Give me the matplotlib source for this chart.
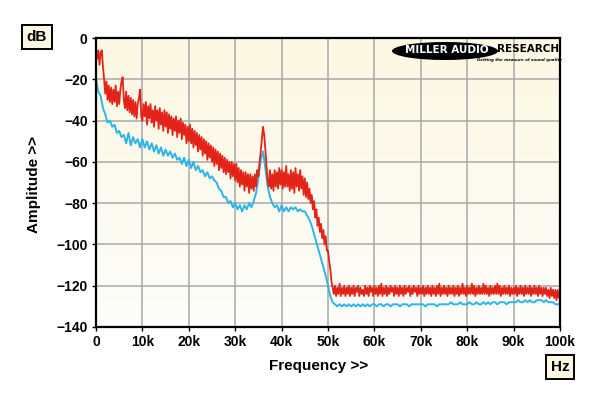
import numpy as np
import matplotlib.pyplot as plt
from matplotlib.patches import Ellipse

# frequency axes (Hz): red trace every 250 Hz, blue every 500 Hz
freq_red = np.arange(0, 100001, 250)
freq_blue = np.arange(0, 100001, 500)

red = [
    -5, -10, -6, -13, -7, -6, -14, -20, -27, -21, -30, -23, -31, -24, -32, -25, -31, -23, -33, -26,
    -32, -25, -21, -19, -30, -34, -26, -35, -28, -36, -29, -37, -30, -38, -31, -39, -32, -29, -25, -38,
    -40, -32, -38, -31, -42, -33, -39, -32, -41, -35, -43, -33, -40, -35, -44, -34, -42, -36, -45, -35,
    -43, -36, -46, -37, -44, -38, -47, -39, -45, -38, -48, -40, -46, -39, -49, -41, -47, -42, -51, -43,
    -50, -42, -51, -44, -53, -45, -52, -46, -55, -47, -54, -48, -57, -49, -56, -50, -59, -51, -58, -52,
    -60, -53, -62, -54, -61, -55, -64, -56, -63, -57, -65, -58, -66, -59, -65, -60, -68, -60, -67, -61,
    -69, -61, -70, -63, -72, -64, -71, -65, -74, -65, -72, -66, -75, -66, -73, -67, -74, -66, -72, -64,
    -67, -60, -55, -49, -43, -47, -54, -62, -69, -72, -64, -73, -66, -74, -64, -72, -65, -73, -63, -71,
    -64, -73, -65, -72, -62, -72, -66, -74, -64, -73, -65, -75, -63, -72, -66, -74, -64, -73, -67, -76,
    -68, -77, -70, -78, -73, -80, -76, -83, -79, -87, -83, -91, -87, -94, -90, -97, -93, -100, -96, -103,
    -103, -108, -112, -118, -121, -124, -120, -125, -121, -124, -119, -125, -121, -124, -120, -125, -121, -124, -120, -125,
    -121, -124, -120, -125, -121, -123, -120, -125, -121, -124, -122, -125, -120, -124, -121, -125, -120, -123, -121, -125,
    -120, -124, -121, -125, -120, -124, -119, -125, -121, -124, -120, -125, -121, -124, -120, -123, -121, -125, -120, -124,
    -121, -125, -120, -124, -121, -125, -120, -124, -121, -123, -120, -125, -121, -124, -120, -123, -121, -125, -120, -124,
    -121, -124, -120, -125, -121, -124, -120, -124, -121, -125, -120, -124, -121, -125, -120, -124, -119, -125, -121, -124,
    -120, -124, -121, -125, -120, -124, -121, -124, -120, -125, -121, -124, -120, -125, -121, -124, -119, -124, -121, -125,
    -120, -124, -121, -124, -119, -124, -120, -125, -121, -124, -120, -124, -121, -124, -119, -124, -120, -124, -121, -125,
    -120, -124, -121, -124, -120, -124, -119, -124, -120, -125, -121, -124, -120, -124, -121, -124, -120, -125, -121, -124,
    -121, -124, -120, -125, -121, -124, -120, -124, -121, -125, -120, -124, -121, -124, -120, -125, -121, -124, -120, -124,
    -121, -125, -120, -124, -121, -125, -121, -124, -121, -125, -122, -126, -121, -125, -122, -126, -122, -127, -122, -126,
    -124,
]

blue = [
    -20, -26, -28, -34, -37, -41, -40, -43, -42, -46, -45, -48, -47, -51, -46, -52, -48, -51, -49, -53,
    -49, -53, -50, -54, -51, -55, -52, -56, -53, -57, -54, -57, -55, -58, -56, -59, -58, -61, -58, -62,
    -59, -63, -60, -64, -62, -65, -64, -67, -65, -68, -67, -69, -70, -73, -74, -77, -77, -80, -79, -82,
    -80, -83, -81, -84, -81, -83, -80, -82, -79, -75, -68, -59, -55, -63, -72, -77, -80, -82, -81, -84,
    -81, -84, -82, -84, -82, -83, -82, -84, -83, -84, -84, -86, -88, -91, -95, -99, -103, -107, -111, -115,
    -120, -125, -128, -129, -130, -129, -130, -129, -130, -129, -130, -129, -130, -129, -130, -129, -130, -129, -130, -129,
    -129, -130, -129, -129, -130, -129, -129, -130, -129, -129, -129, -130, -129, -129, -129, -130, -129, -129, -129, -129,
    -129, -129, -130, -129, -129, -129, -129, -130, -129, -129, -129, -129, -129, -128, -129, -129, -129, -128, -129, -129,
    -129, -128, -129, -129, -128, -129, -129, -128, -129, -128, -129, -128, -128, -129, -128, -128, -128, -129, -128, -128,
    -128, -128, -127, -128, -128, -127, -128, -127, -128, -128, -127, -127, -127, -128, -127, -128, -128, -128, -129, -129,
    -129,
]

xticks = np.arange(0, 100001, 10000)
xlabels = ['0', '10k', '20k', '30k', '40k', '50k', '60k', '70k', '80k', '90k', '100k']
yticks = np.arange(-140, 1, 20)

plt.rcParams['font.family'] = ['Liberation Sans', 'DejaVu Sans']

fig = plt.figure(figsize=(6, 3.96), dpi=100)
ax = fig.add_axes([96 / 600, 1 - 327 / 396, 464 / 600, 289 / 396])

# cream gradient background
grad = np.linspace(0, 1, 256).reshape(-1, 1)
top = np.array([252, 248, 226]) / 255
bot = np.array([253, 253, 250]) / 255
img = top + (bot - top) * grad[:, :, None]
ax.imshow(img, extent=[0, 100000, -140, 0], aspect='auto', zorder=0)

ax.plot(freq_blue, blue, color='#2BB5E8', lw=1.4, zorder=3)
ax.plot(freq_red, red, color='#E42318', lw=1.3, zorder=3)

ax.set_xlim(0, 100000)
ax.set_ylim(-140, 0)
ax.set_xticks(xticks)
ax.set_xticklabels(xlabels)
ax.set_yticks(yticks)
ax.grid(True, color='#A8A8A8', lw=1.1)
for s in ax.spines.values():
    s.set_linewidth(1.6)
    s.set_zorder(5)
ax.tick_params(labelsize=10, length=3, width=1, pad=3)
for lab in ax.get_xticklabels() + ax.get_yticklabels():
    lab.set_fontweight('bold')

ax.set_xlabel('Frequency >>', fontsize=11, fontweight='bold')
ax.set_ylabel('Amplitude >>', fontsize=11, fontweight='bold')
ax.xaxis.set_label_coords((319 - 96) / 464, (327 - 366) / 289)
ax.yaxis.set_label_coords((34 - 96) / 464, (327 - 184) / 289)
ax.xaxis.label.set_va('center')
ax.yaxis.label.set_va('center')

box = dict(boxstyle='square,pad=0.3', fc='#FBF7E2', ec='black', lw=1.4)
fig.text(37 / 600, 1 - 37 / 396, 'dB', fontsize=11, fontweight='bold',
         ha='center', va='center', bbox=box)
fig.text(560 / 600, 1 - 367 / 396, 'Hz', fontsize=11, fontweight='bold',
         ha='center', va='center', bbox=box)

# logo
el = Ellipse((445 / 600, 1 - 51 / 396), 106 / 600, 18 / 396,
             transform=fig.transFigure, fc='black', ec='none', zorder=6)
fig.patches.append(el)
fig.text(447 / 600, 1 - 50 / 396, 'MILLER AUDIO', fontsize=7.5, fontweight='bold',
         family='DejaVu Sans', color='white', ha='center', va='center', zorder=7)
fig.text(528 / 600, 1 - 49.5 / 396, 'RESEARCH', fontsize=7.5, fontweight='bold',
         family='DejaVu Sans', color='black', ha='center', va='center', zorder=7)
fig.text(519 / 600, 1 - 59.5 / 396, 'Getting the measure of sound quality', fontsize=2.9,
         fontweight='bold', style='italic', family='DejaVu Sans', color='black',
         ha='center', va='center', zorder=7)

fig.savefig('out.png', dpi=100)
